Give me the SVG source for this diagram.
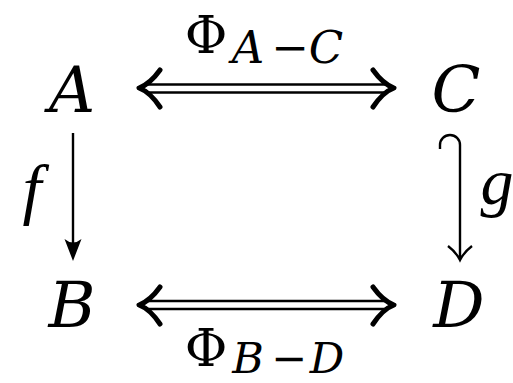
<svg xmlns="http://www.w3.org/2000/svg" width="513" height="383" viewBox="0 0 513 383">
<style>
.m{font-family:"DejaVu Serif",serif;font-style:italic;fill:#000}
.u{font-family:"DejaVu Serif",serif;font-style:normal;fill:#000}
.l{font-family:"Liberation Serif","DejaVu Serif",serif;font-style:italic;fill:#000}
.ln{stroke:#000;fill:none;stroke-width:2.4}
.hd{stroke:#000;fill:none;stroke-width:5;stroke-linecap:round;stroke-linejoin:round}
</style>
<rect width="513" height="383" fill="#fff"/>
<g id="nodeA"><text class="m" x="72" y="112" font-size="64" text-anchor="middle">A</text></g>
<g id="nodeC"><text class="m" x="456" y="112" font-size="64" text-anchor="middle">C</text></g>
<g id="nodeB"><text class="m" x="72" y="327" font-size="64" text-anchor="middle">B</text></g>
<g id="nodeD"><text class="m" x="459" y="327" font-size="64" text-anchor="middle">D</text></g>
<g id="connectors">
  <g id="AC">
    <line class="ln" x1="147" y1="84.5" x2="386" y2="84.5"/>
    <line class="ln" x1="147" y1="92.5" x2="386" y2="92.5"/>
    <path class="hd" d="M160,70 Q150,84 139,88 Q150,92 160,107"/>
    <path class="hd" d="M373,70 Q383,84 394,88 Q383,92 373,107"/>
  </g>
  <g id="BD">
    <line class="ln" x1="147" y1="301" x2="386" y2="301"/>
    <line class="ln" x1="147" y1="309" x2="386" y2="309"/>
    <path class="hd" d="M160,287 Q150,301 139,305 Q150,309 160,324"/>
    <path class="hd" d="M373,287 Q383,301 394,305 Q383,309 373,324"/>
  </g>
  <g id="AB">
    <line class="ln" x1="73" y1="133" x2="73" y2="245"/>
    <path d="M73,261 L64.5,239 Q73,246 81.5,239 Z" fill="#000"/>
  </g>
  <g id="CD">
    <path class="ln" d="M440,149 L440,145 A10,10 0 0 1 460,145 L460,258"/>
    <path class="ln" d="M448,246 Q456,252 460,260 Q464,252 472,246"/>
  </g>
</g>
<g id="labelAC">
  <text class="u" x="206" y="53" font-size="52" text-anchor="middle">Φ</text>
  <text class="m" x="248" y="63" font-size="45" text-anchor="middle">A</text>
  <text class="u" x="290" y="63" font-size="45" text-anchor="middle">−</text>
  <text class="m" x="326" y="63" font-size="45" text-anchor="middle">C</text>
</g>
<g id="labelBD">
  <text class="u" x="206" y="366" font-size="52" text-anchor="middle">Φ</text>
  <text class="m" x="248" y="373" font-size="43" text-anchor="middle">B</text>
  <text class="u" x="289" y="373" font-size="43" text-anchor="middle">−</text>
  <text class="m" x="327" y="373" font-size="43" text-anchor="middle">D</text>
</g>
<g id="labelf"><text class="l" x="32" y="212" font-size="68" text-anchor="middle">f</text></g>
<g id="labelg"><text class="l" x="497" y="204" font-size="66" text-anchor="middle">g</text></g>
</svg>
